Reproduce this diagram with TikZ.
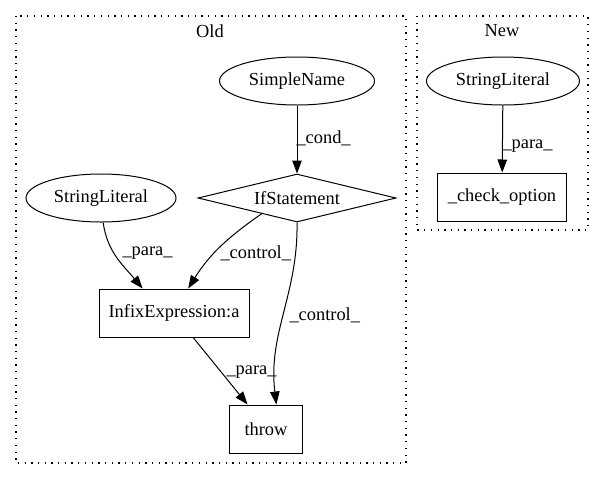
\documentclass[tikz,border=0pt]{standalone}
\usepackage{fontspec}
\setmainfont{Liberation Serif}
\usetikzlibrary{shapes.geometric, arrows.meta}

\begin{document}
\begin{tikzpicture}[x=1pt, y=-1pt, every node/.style = {draw, align=center, inner sep=0pt, font=\fontsize{18.4}{20}\selectfont}, line width=1pt, >={Triangle[length=13pt, width=9.5pt]}]
	\tikzstyle{lit} = [ellipse, minimum width=152pt, minimum height=48pt]
	\tikzstyle{stmt} = [diamond, aspect=4.1, minimum width=198pt, minimum height=48pt]
	\tikzstyle{expr} = [rectangle, minimum height=48pt]
	\tikzstyle{cluster} = [line width=1.3pt, dash pattern=on 1.3pt off 5.4pt]
	\tikzstyle{title} = [draw=none]
	\tikzstyle{label} = [draw=none, anchor=west]
	\useasboundingbox (0,0) rectangle (604,480);
	% clusters
	\draw[cluster] (16,16) rectangle (406,463);
	\draw[cluster] (417,16) rectangle (588,230);
	\node[title] at (210,31) {Old};
	\node[title] at (502,31) {New};
	% old
	\node[lit, minimum width=155pt] (simplename) at (297,81) {SimpleName};
	\node[stmt] (ifstmt) at (297,198) {IfStatement};
	\node[lit, minimum width=150pt] (oldlit) at (101,198) {StringLiteral};
	\node[expr, minimum width=150pt] (infix) at (174,313) {InfixExpression:a};
	\node[expr, minimum width=73pt] (throw) at (266,429) {throw};
	% new
	\node[lit, minimum width=153pt] (newlit) at (503,81) {StringLiteral};
	\node[expr, minimum width=129pt] (check) at (502,197) {\_check\_option};
	% edges
	\draw[->] (simplename) -- (ifstmt);
	\draw[->] (oldlit.-85) to[out=-82, in=130] (infix.142);
	\draw[->] (ifstmt.204) to[out=-145, in=58] (infix.60);
	\draw[->] (ifstmt.south) to[out=-89, in=97] (throw.67);
	\draw[->] (infix.308) -- (throw.127);
	\draw[->] (newlit) -- (check);
	\node[label] at (296,138) {\_cond\_};
	\node[label] at (122,253) {\_para\_};
	\node[label] at (220,253) {\_control\_};
	\node[label] at (289,315) {\_control\_};
	\node[label] at (226,372) {\_para\_};
	\node[label] at (502,146) {\_para\_};
\end{tikzpicture}
\end{document}
